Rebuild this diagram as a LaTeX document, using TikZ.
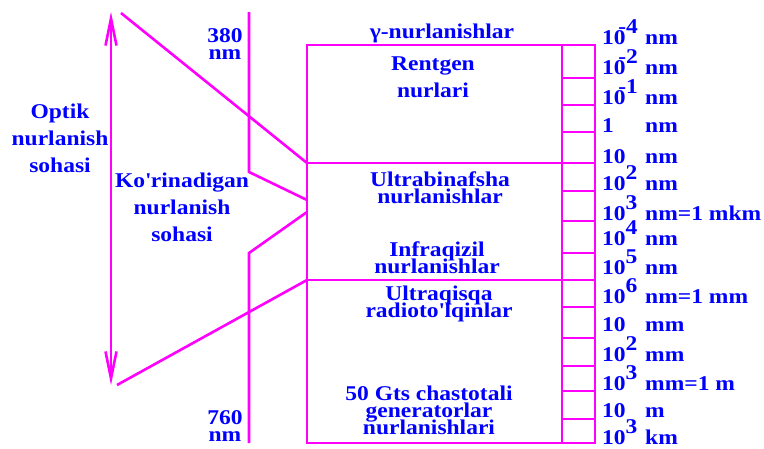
\documentclass[tikz,border=0pt]{standalone}
\usepackage{fontspec}
\setmainfont{Liberation Serif}[FakeStretch=1.12]
\usetikzlibrary{arrows.meta,positioning}

\definecolor{ray}{RGB}{255,0,255}
\definecolor{ink}{RGB}{0,0,255}
\newcommand{\pw}[1]{\raisebox{0.5em}{#1}}
\newcommand{\npw}[1]{\kern-.35em\raisebox{0.5em}{-#1}}

\tikzset{
  frame/.style={draw=ray,line width=2.6pt},
  lbl/.style={text=ink,inner sep=0pt,align=center,
    font={\bfseries\fontsize{21}{17}\selectfont\lineskiplimit=-40pt}},
  wide/.style={lbl,font={\bfseries\fontsize{21}{27}\selectfont}},
  scl/.style={text=ink,inner sep=0pt,anchor=base west,
    font={\bfseries\fontsize{21}{21}\selectfont}},
  barb/.tip={Straight Barb[length=27pt,width=11pt]}
}

\begin{document}
\begin{tikzpicture}[x=1pt,y=-1pt]
\useasboundingbox (0,0) rectangle (764,448);
% spectrum box and scale column
\coordinate (boxNW) at (307,45);
\coordinate (boxSE) at (562,443);
\coordinate (colSE) at (595,443);
\coordinate (uvTop) at (307,163);
\coordinate (irBot) at (307,280);
\draw[frame] (boxNW) rectangle (colSE);
\draw[frame] (boxSE) -- (boxSE |- boxNW);
\draw[frame] (uvTop) -- (uvTop -| colSE);
\draw[frame] (irBot) -- (irBot -| colSE);
\foreach \y in {78,105,132,191,221,253,307,338,366,391,419}
  \draw[frame] (562,\y) -- (595,\y);

% visible range
\coordinate (v380) at (249,12);
\coordinate (kinkA) at (249,172);
\coordinate (visA) at (307,200);
\coordinate (visB) at (307,212);
\coordinate (kinkB) at (249,253);
\coordinate (v760) at (249,443);
\draw[frame] (v380) -- (kinkA) -- (visA);
\draw[frame] (visB) -- (kinkB) -- (v760);

% optical range
\coordinate (optTop) at (111,12);
\coordinate (optBot) at (111,385);
\coordinate (fanTop) at (121,13);
\coordinate (fanBot) at (117,385);
\draw[frame,barb-barb] (optTop) -- (optBot);
\draw[frame] (fanTop) -- (uvTop);
\draw[frame] (irBot) -- (fanBot);

\node[wide] (optik) at (60,138) {Optik\\nurlanish\\sohasi};
\node[wide] (korin) at (182,207) {Ko\textquotesingle rinadigan\\nurlanish\\sohasi};
\node[lbl] (w380) at (225,44) {380\\nm};
\node[lbl] (w760) at (225,426) {760\\nm};

% bands
\node[lbl] (gamma) at (442,33) {γ-nurlanishlar};
\node[wide] (rentgen) at (433,77) {Rentgen\\nurlari};
\node[lbl] (uv) at (440,188) {Ultrabinafsha\\nurlanishlar};
\node[lbl] (ir) at (437,258) {Infraqizil\\nurlanishlar};
\node[lbl] (uqr) at (439,304) {Ultraqisqa\\radioto\textquotesingle lqinlar};
\node[lbl] (gen) at (429,410) {50 Gts chastotali\\generatorlar\\nurlanishlari};

% wavelength scale
\foreach \y/\m/\u [count=\i] in {44/10\npw{4}/nm, 74/10\npw{2}/nm,
    104/10\npw{1}/nm, 132/1/nm, 163/10/nm, 190/10\pw{2}/nm,
    220/10\pw{3}/nm=1 mkm, 245/10\pw{4}/nm, 274/10\pw{5}/nm,
    303/10\pw{6}/nm=1 mm, 331/10/mm, 361/10\pw{2}/mm,
    390/10\pw{3}/mm=1 m, 417/10/m, 444/10\pw{3}/km}
{
  \node[scl] (pow\i) at (602,\y) {\m};
  \node[scl] (unit\i) at (645,\y) {\u};
}
\end{tikzpicture}
\end{document}
